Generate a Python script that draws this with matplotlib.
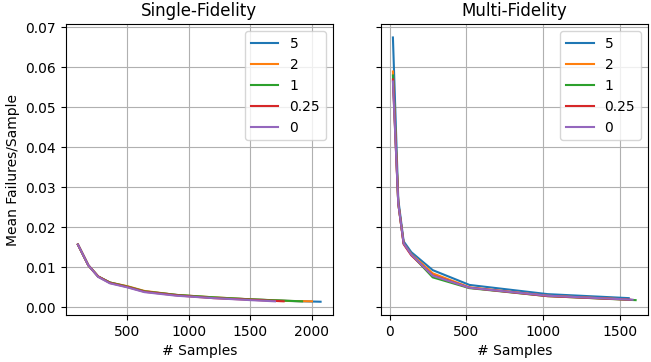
import matplotlib
matplotlib.use("Agg")
import matplotlib.pyplot as plt

labels = ["5", "2", "1", "0.25", "0"]

# Single-fidelity: samples vs mean failures/sample
sf_x = {
    "5": [100, 185, 265, 360, 500, 640, 900, 1200, 1500, 1800, 2070],
    "2": [100, 185, 265, 360, 500, 640, 900, 1200, 1500, 1800, 2000],
    "1": [100, 185, 265, 360, 500, 640, 900, 1200, 1500, 1750, 1920],
    "0.25": [100, 185, 265, 360, 500, 640, 900, 1200, 1500, 1770],
    "0": [100, 185, 265, 360, 500, 640, 900, 1200, 1500, 1700],
}
sf_y = {
    "5": [0.0157, 0.0105, 0.0077, 0.0062, 0.0052, 0.0040, 0.0031, 0.0024, 0.0020, 0.0016, 0.0014],
    "2": [0.0157, 0.0105, 0.0077, 0.0062, 0.0053, 0.0041, 0.0031, 0.0025, 0.0020, 0.0016, 0.0015],
    "1": [0.0157, 0.0105, 0.0077, 0.0062, 0.0052, 0.0040, 0.0031, 0.0025, 0.0020, 0.0017, 0.0015],
    "0.25": [0.0157, 0.0105, 0.0077, 0.0061, 0.0051, 0.0039, 0.0030, 0.0023, 0.0019, 0.0015],
    "0": [0.0157, 0.0105, 0.0076, 0.0060, 0.0050, 0.0038, 0.0029, 0.0023, 0.0018, 0.0015],
}

# Multi-fidelity
mf_x = {
    "5": [20, 55, 90, 140, 280, 520, 1030, 1560],
    "2": [20, 55, 90, 140, 280, 520, 1030, 1540],
    "1": [20, 55, 90, 140, 280, 520, 1030, 1605],
    "0.25": [20, 55, 90, 140, 280, 520, 1030, 1570],
    "0": [20, 55, 90, 140, 280, 520, 1030, 1585],
}
mf_y = {
    "5": [0.0675, 0.0270, 0.0165, 0.0138, 0.0093, 0.0056, 0.0033, 0.0023],
    "2": [0.0590, 0.0260, 0.0160, 0.0133, 0.0085, 0.0050, 0.0029, 0.0020],
    "1": [0.0580, 0.0260, 0.0160, 0.0132, 0.0075, 0.0048, 0.0028, 0.0018],
    "0.25": [0.0570, 0.0260, 0.0158, 0.0130, 0.0080, 0.0049, 0.0028, 0.0019],
    "0": [0.0565, 0.0260, 0.0160, 0.0132, 0.0079, 0.0049, 0.0029, 0.0019],
}


def main() -> None:
    fig, (ax1, ax2) = plt.subplots(1, 2, figsize=(6.51, 3.62), dpi=100, sharey=True)

    for lab in labels:
        ax1.plot(sf_x[lab], sf_y[lab], label=lab)
        ax2.plot(mf_x[lab], mf_y[lab], label=lab)

    ax1.set_title("Single-Fidelity")
    ax1.set_xlabel("# Samples")
    ax1.set_ylabel("Mean Failures/Sample")
    ax1.legend(loc="upper right"); ax1.grid(True)

    ax2.set_title("Multi-Fidelity")
    ax2.set_xlabel("# Samples")
    ax2.legend(loc="upper right"); ax2.grid(True)

    fig.subplots_adjust(left=0.101, right=0.995, bottom=0.13, top=0.933, wspace=0.18)
    fig.savefig("out.png", dpi=100)


if __name__ == "__main__":
    main()
